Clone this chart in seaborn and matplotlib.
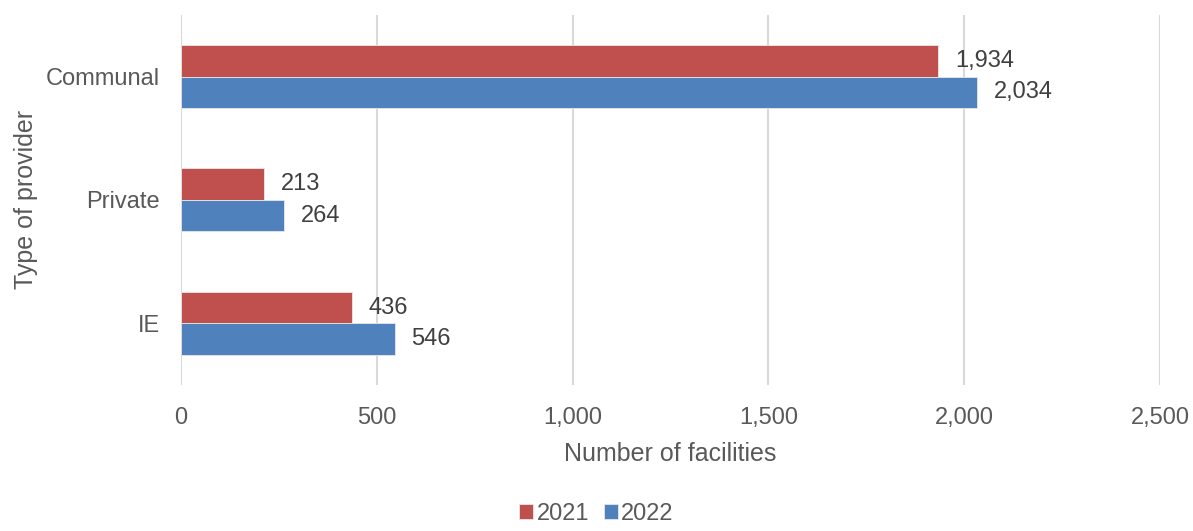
import matplotlib
matplotlib.use('Agg')
import matplotlib.pyplot as plt
import seaborn as sns
import pandas as pd

# data
providers = ['Communal', 'Private', 'IE']
vals_2021 = [1934, 213, 436]
vals_2022 = [2034, 264, 546]
years = ['2021', '2022']
xticks = [0, 500, 1000, 1500, 2000, 2500]

df = pd.DataFrame({
    'provider': providers * 2,
    'year': [years[0]] * 3 + [years[1]] * 3,
    'count': vals_2021 + vals_2022,
})

sns.set_theme(style='white')
plt.rcParams['font.family'] = ['Liberation Sans', 'DejaVu Sans']
text_col = '#595959'

fig = plt.figure(figsize=(11.93, 5.31), dpi=100)
ax = fig.add_axes([0.1517, 0.275, 0.8206, 0.697])

sns.barplot(data=df, x='count', y='provider', hue='year', order=providers,
            hue_order=years, palette=['#C0504D', '#4F81BD'], width=0.51,
            orient='h', saturation=1, ax=ax, zorder=3,
            edgecolor='#E8E8E8', linewidth=0.6)

for cont in ax.containers:
    ax.bar_label(cont, labels=[f'{v:,.0f}' for v in cont.datavalues],
                 padding=12, fontsize=17, color='#404040')

ax.set_xlim(0, 2500)
ax.set_ylim(2.5, -0.5)
ax.set_xticks(xticks)
ax.set_xticklabels([f'{t:,}' for t in xticks])
ax.grid(axis='x', color='#D9D9D9', linewidth=1.5, zorder=0)
ax.set_axisbelow(True)
sns.despine(ax=ax, left=True, bottom=True)
ax.tick_params(axis='x', length=0, labelsize=17, labelcolor=text_col, pad=16)
ax.tick_params(axis='y', length=0, labelsize=17, labelcolor=text_col, pad=15)

ax.set_xlabel('Number of facilities', fontsize=18, color=text_col, labelpad=9)
ax.set_ylabel('Type of provider', fontsize=18, color=text_col, labelpad=6)

# legend sits at the very bottom edge, like the reference
ax.legend(loc='lower center', bbox_to_anchor=(0.5, -0.028), bbox_transform=fig.transFigure,
          ncol=2, frameon=False, fontsize=17, handlelength=0.6, handleheight=0.6,
          handletextpad=0.15, columnspacing=0.6, labelcolor=text_col)

fig.savefig('out.png', dpi=100)
plt.close(fig)
